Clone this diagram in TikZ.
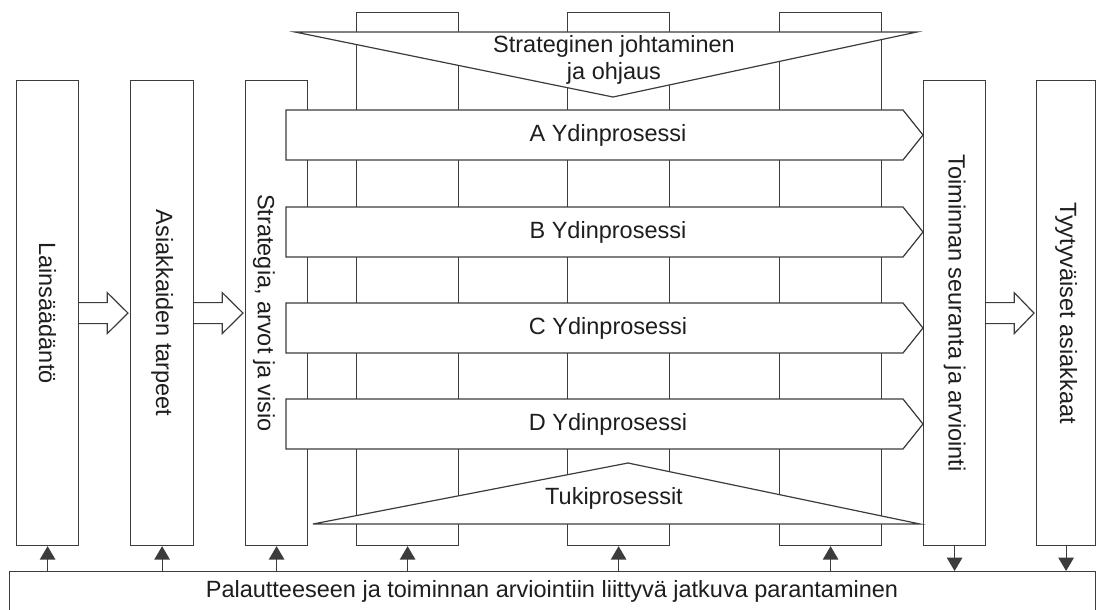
\documentclass[tikz,border=0pt]{standalone}
\usepackage{fontspec}
\setmainfont{Liberation Sans}
\usetikzlibrary{arrows.meta,calc}
\definecolor{ln}{HTML}{3C3C3C}
\definecolor{tx}{HTML}{1E1E1E}
\begin{document}
\begin{tikzpicture}[x=1pt,y=-1pt,
  box/.style={draw=ln, line width=1.2pt, fill=white, inner sep=0pt, anchor=north west},
  shp/.style={draw=ln, line width=1.2pt, fill=white, line join=miter},
  lab/.style={text=tx, font=\fontsize{23.5}{27.5}\selectfont, inner sep=0pt, align=center},
  vlab/.style={lab, rotate=-90},
  sarrow/.style={draw=ln, line width=1.2pt, arrows={-Triangle[scale=2.2]}}]
\useasboundingbox (0,0) rectangle (1096,610);
\clip (0,0) rectangle (1096,610);
% columns
\node[box, minimum width=62pt, minimum height=465pt] (law) at (16,80) {};
\node[box, minimum width=63pt, minimum height=465pt] (need) at (130,80) {};
\node[box, minimum width=62pt, minimum height=465pt] (strat) at (245,80) {};
\node[box, minimum width=102pt, minimum height=533pt] (c1) at (356,12) {};
\node[box, minimum width=102pt, minimum height=533pt] (c2) at (567,12) {};
\node[box, minimum width=102pt, minimum height=533pt] (c3) at (779,12) {};
\node[box, minimum width=62pt, minimum height=465pt] (mon) at (923,80) {};
\node[box, minimum width=59pt, minimum height=465pt] (sat) at (1036,80) {};
\node[box, minimum width=1086pt, minimum height=41pt] (bot) at (9,571) {};
% strategic steering triangle
\draw[shp] (295,32) -- (917,32) -- (613,97) -- cycle;
\node[lab] (steer) at (614,60) {Strateginen johtaminen\\[-1pt]ja ohjaus};
% core processes
\foreach \nm/\yy/\tt in {pa/135/A, pb/232/B, pc/328/C, pd/424/D}{
  \draw[shp] (286,\yy-25) -- (903,\yy-25) -- (mon.west |- 0,\yy) -- (903,\yy+25) -- (286,\yy+25) -- cycle;
  \node[lab] (\nm) at (608,\yy) {\tt{} Ydinprosessi};
}
% support processes
\draw[shp] (313,524) -- (628,463) -- (920,524) -- cycle;
\node[lab] (sup) at (614,498) {Tukiprosessit};
% vertical labels
\node[vlab] (lawt) at (law.center) {Lainsäädäntö};
\node[vlab] (needt) at (need.center) {Asiakkaiden tarpeet};
\node[vlab] (stratt) at ($(strat.west)+(19,0)$) {Strategia, arvot ja visio};
\node[vlab] (mont) at (mon.center) {Toiminnan seuranta ja arviointi};
\node[vlab] (satt) at (sat.center) {Tyytyväiset asiakkaat};
\node[lab] (bott) at (552,591) {Palautteeseen ja toiminnan arviointiin liittyvä jatkuva parantaminen};
% hollow arrows
\foreach \a/\b in {law/need, need/strat, mon/sat}{
  \draw[shp] ($(\a.east)+(0,-10.5)$) -- ($(\a.east)+(28,-10.5)$) -- ($(\a.east)+(28,-20.5)$)
    -- ($(\b.west)+(-2,0)$) -- ($(\a.east)+(28,20.5)$) -- ($(\a.east)+(28,10.5)$)
    -- ($(\a.east)+(0,10.5)$);
}
% feedback arrows
\foreach \n in {law, need, strat, c1, c2, c3}{
  \draw[sarrow] (\n.south |- bot.north) -- (\n.south);
}
\foreach \n in {mon, sat}{
  \draw[sarrow] (\n.south) -- (\n.south |- bot.north);
}
\end{tikzpicture}
\end{document}
